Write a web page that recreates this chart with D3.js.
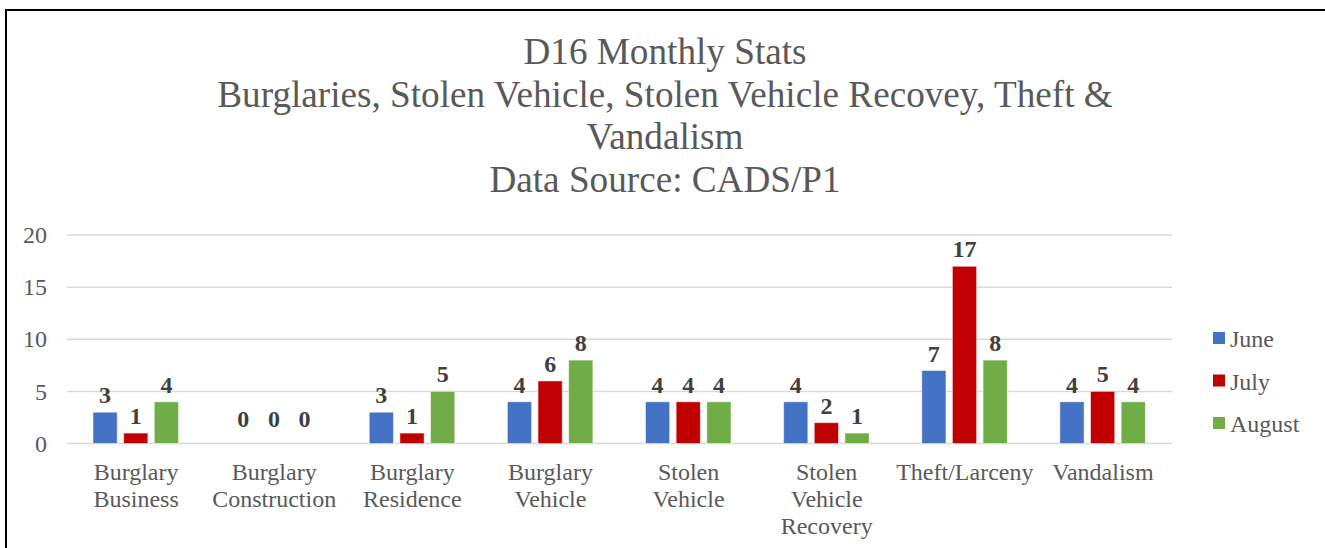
<!DOCTYPE html>
<html lang="en">
<head>
    <meta charset="UTF-8">
    <title>D16 Monthly Stats</title>
    <style>
        body { margin: 0; background: #fff; }
        text { font-family: "Liberation Serif", "Times New Roman", serif; }
    </style>
</head>
<body>
    <svg id="chart" width="1325" height="548"></svg>
    <script src="https://d3js.org/d3.v7.min.js"></script>
    <script>
        // data
        var categories = ["Burglary Business", "Burglary Construction", "Burglary Residence",
                          "Burglary Vehicle", "Stolen Vehicle", "Stolen Vehicle Recovery",
                          "Theft/Larceny", "Vandalism"];
        var series = ["June", "July", "August"];
        var june   = [3, 0, 3, 4, 4, 4, 7, 4];
        var july   = [1, 0, 1, 6, 4, 2, 17, 5];
        var august = [4, 0, 5, 8, 4, 1, 8, 4];
        var yTicks = [0, 5, 10, 15, 20];
        var titleLines = ["D16 Monthly Stats",
                          "Burglaries, Stolen Vehicle, Stolen Vehicle Recovey, Theft &",
                          "Vandalism",
                          "Data Source: CADS/P1"];
        var colors = ["#4472C4", "#C00000", "#70AD47"];

        var values = [june, july, august];

        var svg = d3.select("#chart");

        // outer frame (right and bottom run off the page)
        svg.append("rect")
           .attr("x", 6).attr("y", 10)
           .attr("width", 1340).attr("height", 560)
           .attr("fill", "none")
           .attr("stroke", "#000")
           .attr("stroke-width", 2);

        // title
        svg.append("g").selectAll("text")
           .data(titleLines)
           .enter().append("text")
           .attr("x", 665)
           .attr("y", function(d, i) { return 64 + i * 42.7; })
           .attr("text-anchor", "middle")
           .attr("fill", "#595959")
           .style("font-size", "37.2px")
           .text(function(d) { return d; });

        var x = d3.scaleBand()
                  .domain(categories)
                  .range([67, 1172]);

        var xInner = d3.scaleBand()
                       .domain(series)
                       .range([26, 111.5])
                       .paddingInner(0.21)
                       .paddingOuter(0);

        var y = d3.scaleLinear()
                  .domain([0, 20])
                  .range([443.5, 235]);

        // gridlines
        svg.append("g").selectAll("line")
           .data(yTicks)
           .enter().append("line")
           .attr("x1", 67).attr("x2", 1172)
           .attr("y1", function(d) { return y(d); })
           .attr("y2", function(d) { return y(d); })
           .attr("stroke", "#d9d9d9")
           .attr("stroke-width", 1.5);

        // y axis labels
        var yAxis = svg.append("g")
                       .attr("transform", "translate(50,0)")
                       .call(d3.axisLeft(y).tickValues(yTicks).tickSize(0).tickPadding(3));
        yAxis.select(".domain").remove();
        yAxis.selectAll("text")
             .attr("fill", "#595959")
             .style("font-size", "24px")
             .style("font-family", "'Liberation Serif', serif");

        // x axis labels, wrapped on spaces
        var xAxis = svg.append("g")
                       .attr("transform", "translate(0,443.5)")
                       .call(d3.axisBottom(x).tickSize(0));
        xAxis.select(".domain").remove();
        xAxis.selectAll(".tick text").each(function(d) {
            var t = d3.select(this).text(null)
                      .attr("y", 0).attr("dy", null)
                      .attr("fill", "#595959")
                      .style("font-size", "24px")
                      .style("font-family", "'Liberation Serif', serif");
            d.split(" ").forEach(function(w, i) {
                t.append("tspan").attr("x", 0).attr("y", 36.5 + i * 26.8).text(w);
            });
        });

        // bars
        var rows = [];
        categories.forEach(function(c, ci) {
            series.forEach(function(s, si) {
                rows.push({ cat: c, series: s, si: si, value: values[si][ci] });
            });
        });

        svg.append("g").selectAll("rect")
           .data(rows)
           .enter().append("rect")
           .attr("x", function(d) { return x(d.cat) + xInner(d.series); })
           .attr("width", xInner.bandwidth())
           .attr("y", function(d) { return y(d.value); })
           .attr("height", function(d) { return y(0) - y(d.value); })
           .attr("fill", function(d) { return colors[d.si]; })
           .attr("stroke", "#fff")
           .attr("stroke-opacity", 0.5)
           .attr("stroke-width", 1);

        // data labels
        svg.append("g").selectAll("text")
           .data(rows)
           .enter().append("text")
           .attr("x", function(d) { return x(d.cat) + xInner(d.series) + xInner.bandwidth() / 2; })
           .attr("y", function(d) { return Math.min(y(d.value), y(0) - 8) - 9; })
           .attr("text-anchor", "middle")
           .attr("fill", "#404040")
           .style("font-size", "24px")
           .style("font-weight", "bold")
           .text(function(d) { return d.value; });

        // legend
        var legend = svg.append("g").selectAll("g")
                        .data(series)
                        .enter().append("g")
                        .attr("transform", function(d, i) { return "translate(1213," + (338 + i * 42.5) + ")"; });
        legend.append("rect")
              .attr("x", 0).attr("y", -6)
              .attr("width", 12).attr("height", 12)
              .attr("fill", function(d, i) { return colors[i]; });
        legend.append("text")
              .attr("x", 17).attr("y", 9)
              .attr("fill", "#595959")
              .style("font-size", "24px")
              .text(function(d) { return d; });
    </script>
</body>
</html>
